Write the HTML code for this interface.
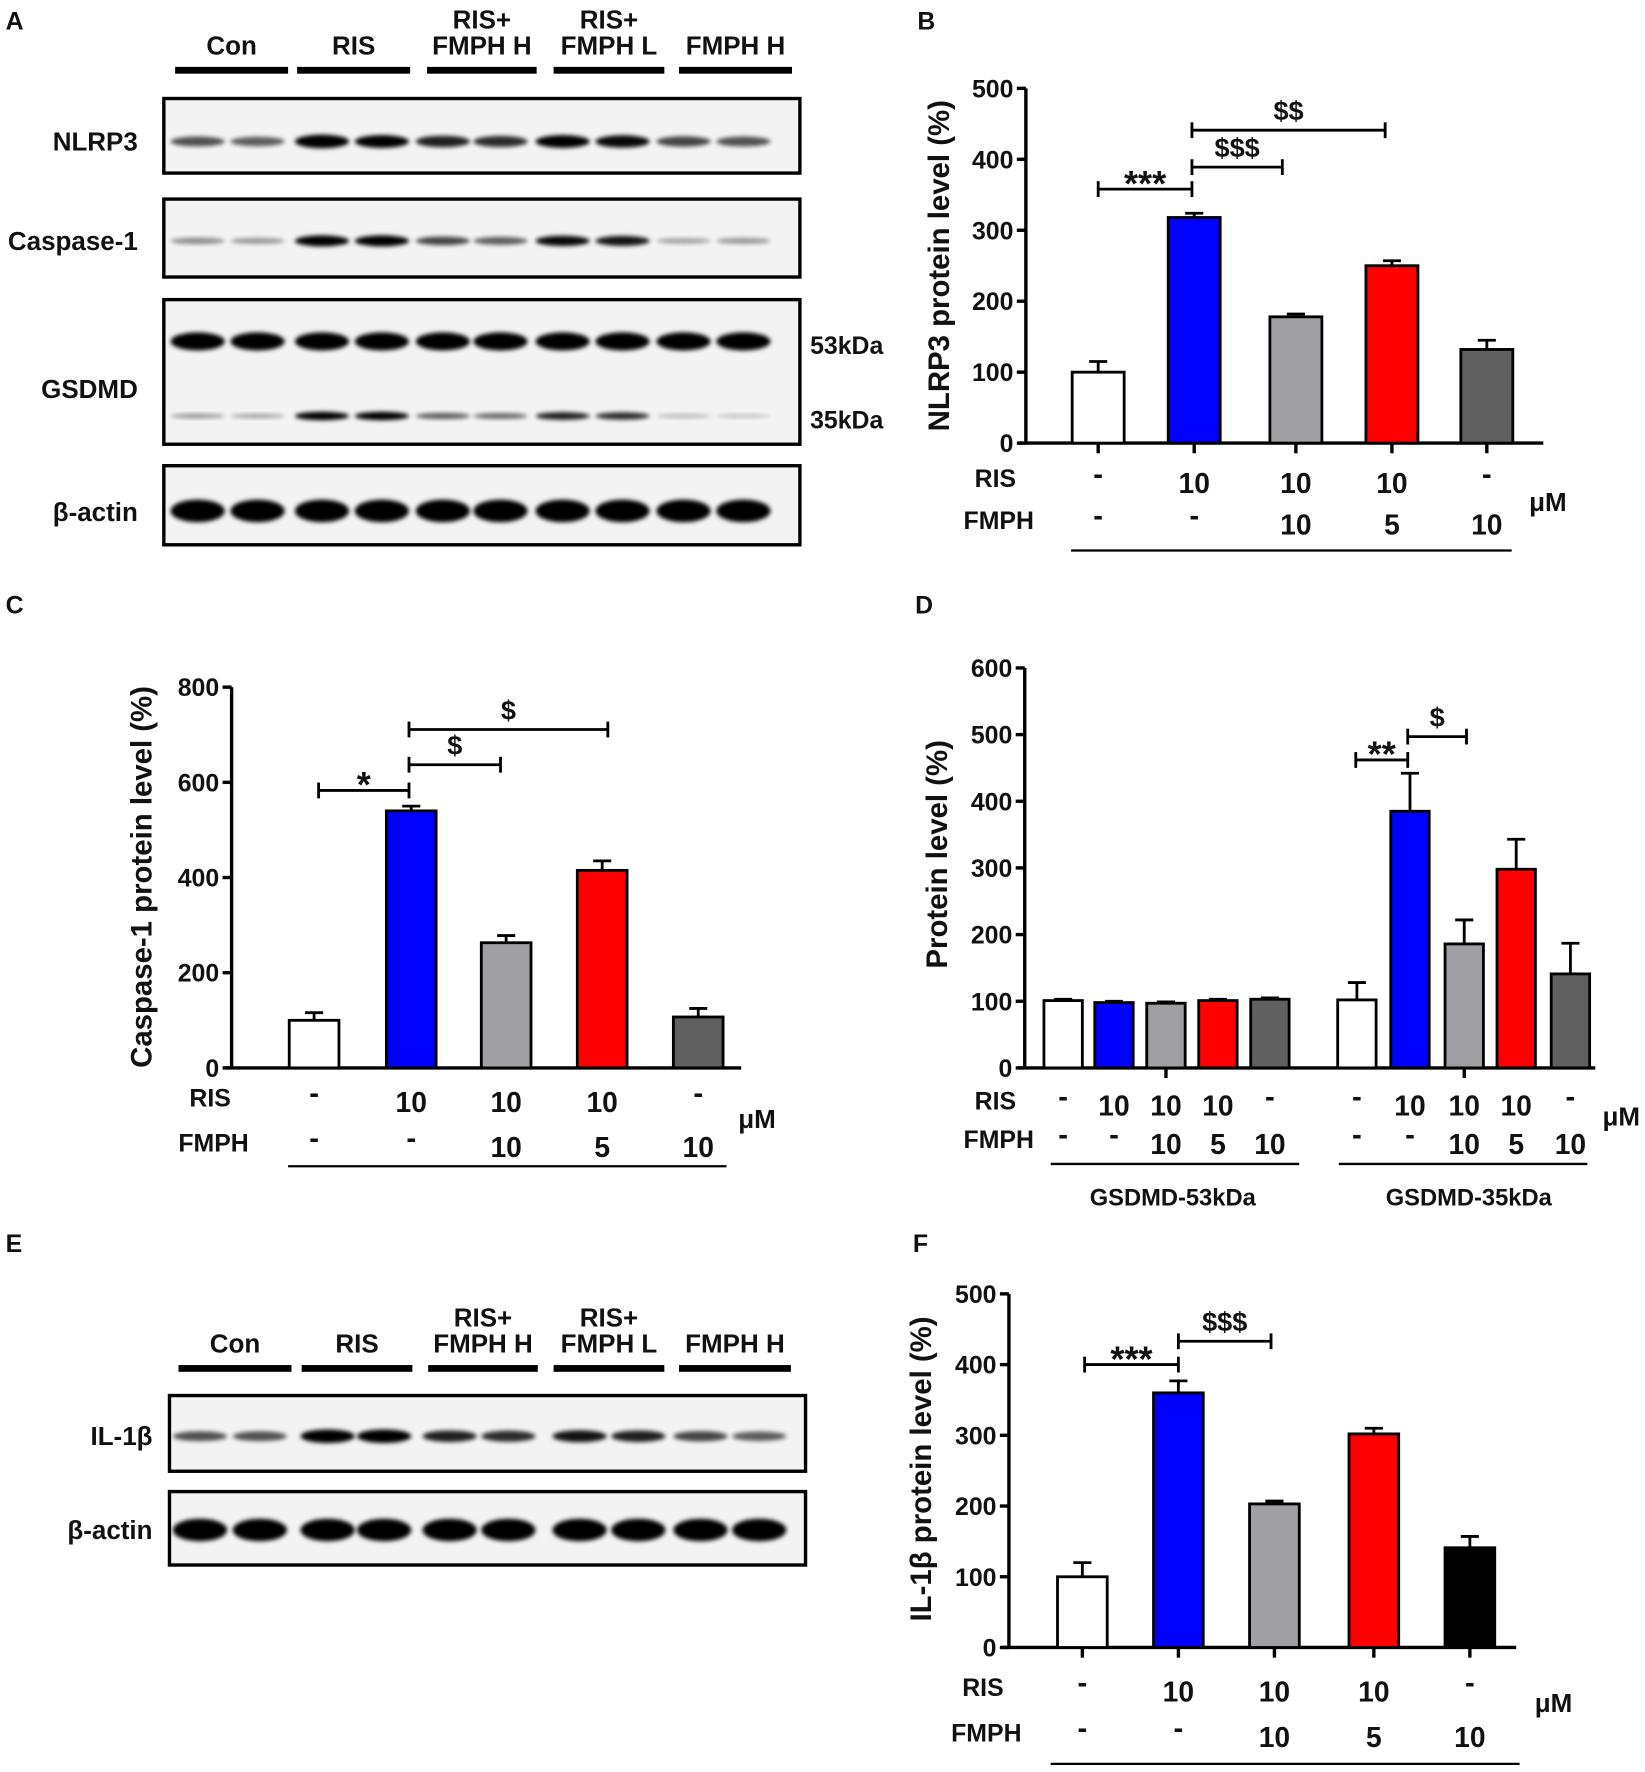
<!DOCTYPE html>
<html><head><meta charset="utf-8">
<style>
html,body{margin:0;padding:0;background:#fff;}
svg{display:block;}
text{font-family:"Liberation Sans",Arial,sans-serif;font-weight:bold;fill:#111;}
</style></head>
<body>
<svg id="fig" width="1645" height="1772" viewBox="0 0 1456 1568" xmlns="http://www.w3.org/2000/svg">
<defs>
<filter id="blur" x="-20%" y="-50%" width="140%" height="200%"><feGaussianBlur stdDeviation="1.8"/></filter>
</defs>
<g id="root"></g>
</svg>
<script>
// ---------- data ----------
const groupsAll = ["Con","RIS","RIS+FMPH H","RIS+FMPH L","FMPH H"];
const risRow = ["-","10","10","10","-"];
const fmphRow = ["-","-","10","5","10"];
const nlrp3Values = [100,318,178,250,132];
const nlrp3Errors = [15,6,4,7,13];
const casp1Values = [100,540,263,415,107];
const casp1Errors = [16,10,15,20,18];
const gsdmd53Values = [101,98,97,101,103];
const gsdmd53Errors = [2,2,2,2,2];
const gsdmd35Values = [102,385,186,298,141];
const gsdmd35Errors = [26,57,36,45,46];
const il1bValues = [100,360,203,302,141];
const il1bErrors = [20,17,4,8,16];
const ticksB = [0,100,200,300,400,500];
const ticksC = [0,200,400,600,800];
const ticksD = [0,100,200,300,400,500,600];
const ticksF = [0,100,200,300,400,500];
// band intensities (0..1) per lane
const bandNLRP3 = [0.55,0.5,1,0.9,0.75,0.7,0.9,0.85,0.6,0.55];
const bandCasp = [0.3,0.25,0.95,0.95,0.6,0.5,0.85,0.8,0.2,0.25];
const band53 = [1,1,1,1,1,1,1,1,1,1];
const band35 = [0.25,0.2,0.9,0.9,0.5,0.45,0.75,0.7,0.12,0.08];
const bandActin = [1,1,1,1,1,1,1,1,1,1];
const bandIL = [0.55,0.55,1,1,0.75,0.7,0.8,0.75,0.6,0.5];

const NS="http://www.w3.org/2000/svg";
const root=document.getElementById('root');
function el(tag,attrs,parent){const e=document.createElementNS(NS,tag);for(const k in attrs)e.setAttribute(k,attrs[k]);(parent||root).appendChild(e);return e;}
function txt(x,y,s,size,anchor,parent){const t=el('text',{x:x,y:y,'font-size':size,'text-anchor':anchor||'middle'},parent);t.textContent=s;return t;}

// panel letters
[["A",5,26],["B",812,26],["C",5,543],["D",810,543],["E",5,1108],["F",808,1108]].forEach(p=>{
  const t=txt(p[1],p[2],p[0],22,'start');
  
  
});

// ---------- western blots ----------
function headers(yText,yBar,spans,parent){
  const names=[["Con"],["RIS"],["RIS+","FMPH H"],["RIS+","FMPH L"],["FMPH H"]];
  spans.forEach((s,i)=>{
    const cx=(s[0]+s[1])/2;
    const n=names[i];
    if(n.length===1){txt(cx,yText,n[0],23,'middle',parent);}
    else{txt(cx,yText-23,n[0],23,'middle',parent);txt(cx,yText,n[1],23,'middle',parent);}
    const r=el('rect',{x:s[0],y:yBar-3,width:s[1]-s[0],height:6,fill:'#000'},parent);
    
    
  });
}
function blot(x,y,w,h,label,lanes,rows,parent){
  const g=el('g',{},parent);
  
  
  el('rect',{x:x,y:y,width:w,height:h,fill:'#f3f3f3',stroke:'#000','stroke-width':3},g);
  rows.forEach(r=>{
    lanes.forEach((lx,i)=>{
      const v=r.vals[i];
      el('ellipse',{cx:lx,cy:r.y,rx:24,ry:r.h*(0.4+0.6*v),fill:'#000',opacity:Math.min(1,0.12+v),filter:'url(#blur)'},g);
    });
  });
  return g;
}
// Panel A
const gA=el('g',{});  
headers(48,62,[[155,255],[263,363],[378,475],[490,588],[601,701]],gA);
const lanesA=[175,228,285,338,392,443,498,551,605,658];
blot(145,87,563,66,'NLRP3',lanesA,[{y:125,vals:bandNLRP3,h:6}],gA);
blot(145,176,563,69,'Caspase-1',lanesA,[{y:213,vals:bandCasp,h:5}],gA);
blot(145,265,563,128,'GSDMD',lanesA,[{y:302,vals:band53,h:8},{y:368,vals:band35,h:4}],gA);
blot(145,412,563,70,'beta-actin',lanesA,[{y:452,vals:bandActin,h:10}],gA);
[["NLRP3",133],["Caspase-1",221],["GSDMD",352],["β-actin",461]].forEach(l=>txt(122,l[1],l[0],23,'end',gA));
txt(717,313,"53kDa",22,'start',gA); txt(717,379,"35kDa",22,'start',gA);

// Panel E
const gE=el('g',{});  
headers(1197,1211,[[158,258],[267,365],[379,476],[490,588],[601,700]],gE);
const lanesE=[177,230,290,340,398,450,513,565,620,672];
blot(150,1235,563,67,'IL-1beta',lanesE,[{y:1271,vals:bandIL,h:6}],gE);
blot(150,1320,563,65,'beta-actin-e',lanesE,[{y:1354,vals:bandActin,h:10}],gE);
txt(135,1279,"IL-1β",23,'end',gE); txt(135,1362,"β-actin",23,'end',gE);

// ---------- bar charts ----------
const colors5=['#ffffff','#0000ff','#a0a0a4','#ff0000','#606060'];
function barChart(o){
  const g=el('g',{});  
  const ymax=o.ticks[o.ticks.length-1];
  const yS=v=>o.y0-(v/ymax)*(o.y0-o.yTop);
  el('line',{x1:o.ax,y1:o.yTop,x2:o.ax,y2:o.y0,stroke:'#000','stroke-width':3},g);
  el('line',{x1:o.ax-6,y1:o.y0,x2:o.axEnd,y2:o.y0,stroke:'#000','stroke-width':3},g);
  o.ticks.forEach(t=>{
    el('line',{x1:o.ax-8,y1:yS(t),x2:o.ax,y2:yS(t),stroke:'#000','stroke-width':3},g);
    const tl=txt(o.ax-11,yS(t)+8,String(t),22,'end',g);
    
    
  });
  const yt=txt(0,0,o.ytitle,26,'middle',g);
  yt.setAttribute('transform','translate('+o.ytx+','+o.yty+') rotate(-90)');
  
  
  o.series.forEach((s,si)=>{
    s.values.forEach((v,i)=>{
      const cx=s.centers[i];
      const top=yS(v), et=yS(v+s.errors[i]);
      el('line',{x1:cx,y1:top,x2:cx,y2:et,stroke:'#000','stroke-width':2.5},g);
      el('line',{x1:cx-8,y1:et,x2:cx+8,y2:et,stroke:'#000','stroke-width':2.5},g);
      const b=el('rect',{x:cx-o.bw/2,y:top,width:o.bw,height:o.y0-top,fill:(o.colors||colors5)[i],stroke:'#000','stroke-width':2.5},g);
      
      
    });
  });
  (o.xticks||[]).forEach(x=>el('line',{x1:x,y1:o.y0,x2:x,y2:o.y0+9,stroke:'#000','stroke-width':3},g));
  txt(o.rowLabelX,o.risY,"RIS",22,'middle',g);
  txt(o.rowLabelX+3,o.fmY,"FMPH",22,'middle',g);
  o.series.forEach(s=>{
    s.centers.forEach((cx,i)=>{
      txt(cx,o.risY+(risRow[i]==='-'?-3:5),risRow[i]==='-'?'-':risRow[i],risRow[i]==='-'?26:25,'middle',g);
      txt(cx,o.fmY+(fmphRow[i]==='-'?-3:5),fmphRow[i]==='-'?'-':fmphRow[i],fmphRow[i]==='-'?26:25,'middle',g);
    });
  });
  txt(o.umX,o.umY,"μM",23,'middle',g);
  o.lines.forEach(l=>el('line',{x1:l[0],y1:l[2],x2:l[1],y2:l[2],stroke:'#000','stroke-width':2},g));
  (o.sig||[]).forEach(s=>{
    const y=yS(s.v);
    el('line',{x1:s.x1,y1:y,x2:s.x2,y2:y,stroke:'#000','stroke-width':2.5},g);
    el('line',{x1:s.x1,y1:y-7,x2:s.x1,y2:y+7,stroke:'#000','stroke-width':2.5},g);
    el('line',{x1:s.x2,y1:y-7,x2:s.x2,y2:y+7,stroke:'#000','stroke-width':2.5},g);
    const isStar=s.label.indexOf('*')>=0;
    const st=txt((s.x1+s.x2)/2,y-9+(isStar?15:0),s.label,isStar?32:24,'middle',g);
    
    
  });
  return g;
}
// B
barChart({name:'panel-b-nlrp3-chart',ticks:ticksB,ax:908,axEnd:1366,y0:392,yTop:78,bw:46,
  series:[{values:nlrp3Values,errors:nlrp3Errors,centers:[972,1057,1147,1232,1316]}],
  xticks:[972,1057,1147,1232,1316],
  ytitle:"NLRP3 protein level (%)",ytx:840,yty:235,rowLabelX:881,risY:431,fmY:468,umX:1370,umY:452,
  lines:[[948,1338,487]],
  sig:[{x1:972,x2:1055,v:358,label:'***'},{x1:1055,x2:1135,v:389,label:'$$$'},{x1:1055,x2:1226,v:441,label:'$$'}]});
// C
barChart({name:'panel-c-caspase1-chart',ticks:ticksC,ax:205,axEnd:656,y0:945,yTop:608,bw:44,
  series:[{values:casp1Values,errors:casp1Errors,centers:[278,364,448,533,618]}],
  ytitle:"Caspase-1 protein level (%)",ytx:134,yty:776,rowLabelX:186,risY:979,fmY:1019,umX:670,umY:998,
  lines:[[255,643,1032]],
  sig:[{x1:282,x2:362,v:583,label:'*'},{x1:362,x2:443,v:637,label:'$'},{x1:362,x2:538,v:711,label:'$'}]});
// D
barChart({name:'panel-d-gsdmd-chart',ticks:ticksD,ax:907,axEnd:1412,y0:945,yTop:591,bw:34,
  series:[{label:'53kda',values:gsdmd53Values,errors:gsdmd53Errors,centers:[941,986,1032,1078,1124]},
          {label:'35kda',values:gsdmd35Values,errors:gsdmd35Errors,centers:[1201,1248,1296,1342,1390]}],
  xticks:[1032,1296],
  ytitle:"Protein level (%)",ytx:838,yty:756,rowLabelX:881,risY:982,fmY:1016,umX:1435,umY:996,
  lines:[[930,1150,1030],[1185,1405,1030]],
  sig:[{x1:1200,x2:1246,v:462,label:'**'},{x1:1246,x2:1298,v:497,label:'$'}]});
(function(){const a=txt(1038,1067,"GSDMD-53kDa",21,'middle');
const b=txt(1300,1067,"GSDMD-35kDa",21,'middle');})();
// F
barChart({name:'panel-f-il1b-chart',ticks:ticksF,ax:893,axEnd:1342,y0:1458,yTop:1145,bw:44,
  colors:['#ffffff','#0000ff','#a0a0a4','#ff0000','#000000'],
  series:[{values:il1bValues,errors:il1bErrors,centers:[958,1043,1128,1216,1301]}],
  xticks:[958,1043,1128,1216,1301],
  ytitle:"IL-1β protein level (%)",ytx:824,yty:1300,rowLabelX:870,risY:1501,fmY:1541,umX:1375,umY:1515,
  lines:[[930,1345,1561]],
  sig:[{x1:960,x2:1043,v:400,label:'***'},{x1:1043,x2:1125,v:433,label:'$$$'}]});
</script>
</body></html>
